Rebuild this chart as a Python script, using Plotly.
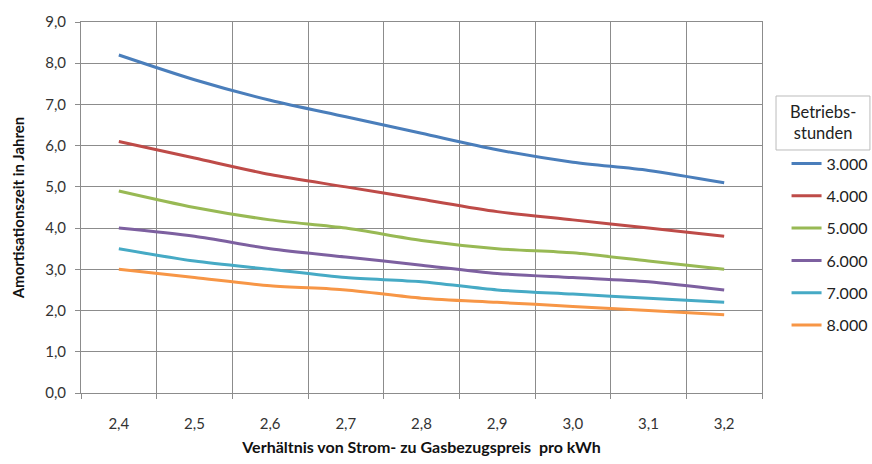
import plotly.graph_objects as go

categories = ["2,4", "2,5", "2,6", "2,7", "2,8", "2,9", "3,0", "3,1", "3,2"]
series_names = ["3.000", "4.000", "5.000", "6.000", "7.000", "8.000"]
s3000 = [8.2, 7.6, 7.1, 6.7, 6.3, 5.9, 5.6, 5.4, 5.1]
s4000 = [6.1, 5.7, 5.3, 5.0, 4.7, 4.4, 4.2, 4.0, 3.8]
s5000 = [4.9, 4.5, 4.2, 4.0, 3.7, 3.5, 3.4, 3.2, 3.0]
s6000 = [4.0, 3.8, 3.5, 3.3, 3.1, 2.9, 2.8, 2.7, 2.5]
s7000 = [3.5, 3.2, 3.0, 2.8, 2.7, 2.5, 2.4, 2.3, 2.2]
s8000 = [3.0, 2.8, 2.6, 2.5, 2.3, 2.2, 2.1, 2.0, 1.9]
series_values = [s3000, s4000, s5000, s6000, s7000, s8000]
colors = ["#4A7EBB", "#BE4B48", "#98B954", "#7D60A0", "#46AAC5", "#F79646"]
y_ticks = [0, 1, 2, 3, 4, 5, 6, 7, 8, 9]

FONT = "Lato"
fig = go.Figure()
for name, vals, col in zip(series_names, series_values, colors):
    fig.add_trace(go.Scatter(
        x=categories, y=vals, name=name, mode="lines",
        line=dict(color=col, width=3, shape="spline", smoothing=0.8),
        legendgroup=name,
    ))

grid = "#8C8C8C"
fig.update_layout(
    width=872, height=464,
    margin=dict(l=81, r=110, t=22, b=71),
    paper_bgcolor="white", plot_bgcolor="white",
    separators=",.",
    font=dict(family=FONT, size=15, color="#333333"),
    showlegend=True,
    legend=dict(
        xref="container", yref="container",
        x=0.902, xanchor="left", y=0.684, yanchor="top",
        font=dict(family=FONT, size=16, color="#222222"),
        tracegroupgap=8.5, itemwidth=30, borderwidth=0,
        bgcolor="rgba(0,0,0,0)",
    ),
    xaxis=dict(
        type="category", range=[-0.5, 8.5],
        tickson="boundaries", ticks="outside", ticklen=5, tickcolor=grid,
        showgrid=True, gridcolor=grid, gridwidth=1,
        showline=True, linecolor=grid, linewidth=1, mirror=True,
        ticklabelstandoff=17,
        tickfont=dict(family=FONT, size=15, color="#333333"),
        title=dict(text="<b>Verhältnis von Strom- zu Gasbezugspreis  pro kWh</b>",
                   font=dict(family=FONT, size=16, color="#111111"), standoff=10),
    ),
    yaxis=dict(
        range=[0, 9], tickvals=y_ticks, tickformat=".1f",
        ticks="outside", ticklen=5, tickcolor=grid,
        showgrid=True, gridcolor=grid, gridwidth=1,
        showline=True, linecolor=grid, linewidth=1, mirror=True,
        zeroline=False, ticklabelstandoff=6,
        tickfont=dict(family=FONT, size=15, color="#333333"),
        title=dict(text="<b>Amortisationszeit in Jahren</b>",
                   font=dict(family=FONT, size=15, color="#111111"), standoff=16),
    ),
)

# Legend title box (Excel-style text box)
fig.add_shape(type="rect", xref="paper", yref="paper",
              x0=1.0206, x1=1.1585, y0=0.655, y1=0.8005,
              line=dict(color="#BBBBBB", width=1), fillcolor="white")
fig.add_annotation(xref="paper", yref="paper", x=1.09, y=0.728,
                   text="Betriebs-<br>stunden", showarrow=False,
                   xanchor="center", yanchor="middle", align="center",
                   font=dict(family=FONT, size=16.5, color="#222222"))

fig.write_html("out.html")
